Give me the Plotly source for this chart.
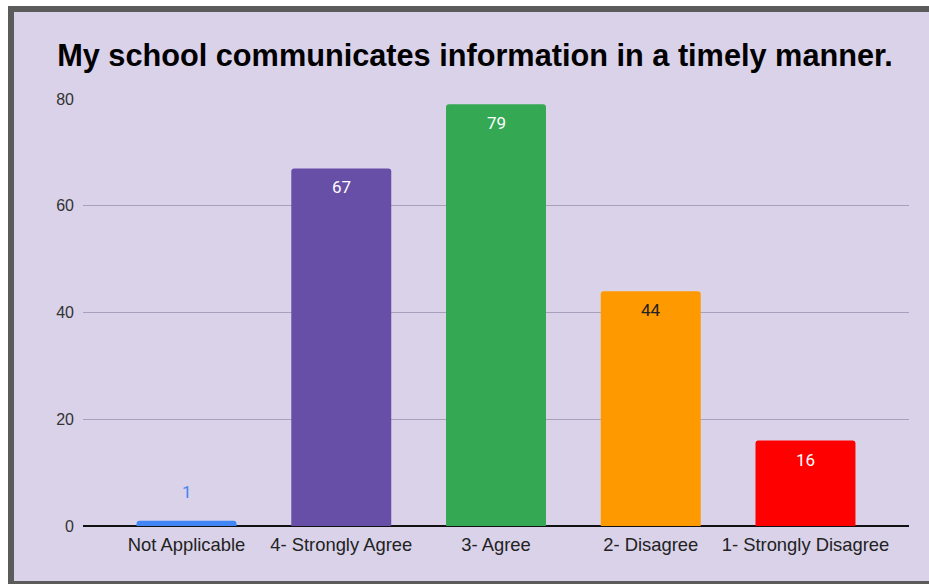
import plotly.graph_objects as go

categories = ["Not Applicable", "4- Strongly Agree", "3- Agree", "2- Disagree", "1- Strongly Disagree"]
counts = [1, 67, 79, 44, 16]
bar_colors = ["#4285f4", "#674ea7", "#34a853", "#ff9900", "#ff0000"]
label_colors = ["#4285f4", "#ffffff", "#ffffff", "#222222", "#ffffff"]
y_ticks = [0, 20, 40, 60, 80]

W, H = 929, 584
ML, MR, MT, MB = 83, 20, 99, 58
PW, PH = W - ML - MR, H - MT - MB


def px_x(p):
    return (p - ML) / PW


def px_y(p):
    return (H - MB - p) / PH


fig = go.Figure()
fig.add_trace(go.Bar(
    x=categories,
    y=counts,
    marker=dict(color=bar_colors, line=dict(width=0), cornerradius=3),
    width=0.646,
    hoverinfo="x+y",
))

# value labels: inside the top of tall bars, above the tiny one
for cat, val, col in zip(categories, counts, label_colors):
    inside = val > 5
    fig.add_annotation(
        x=cat, y=val, xref="x", yref="y",
        text=str(val), showarrow=False,
        yanchor="top" if inside else "bottom",
        yshift=-7 if inside else 17,
        font=dict(family="Roboto, Arial, sans-serif", size=17, color=col),
    )

# card frame behind the chart
fig.add_shape(
    type="rect", xref="paper", yref="paper", layer="below",
    x0=px_x(11), x1=px_x(940), y0=px_y(9), y1=px_y(584),
    fillcolor="#d9d2e9", line=dict(color="#5b5b5b", width=6),
)

fig.update_layout(
    width=W, height=H,
    margin=dict(l=ML, r=MR, t=MT, b=MB, pad=0),
    paper_bgcolor="#ffffff",
    plot_bgcolor="rgba(0,0,0,0)",
    showlegend=False,
    title=dict(
        text="<b>My school communicates information in a timely manner.</b>",
        x=475 / W, xanchor="center", y=1 - 55 / H, yanchor="middle",
        font=dict(family="Liberation Sans, Arial, sans-serif", size=30.7, color="#000000"),
    ),
    xaxis=dict(
        range=[-0.669, 4.669],
        showgrid=False, zeroline=False,
        showline=False, ticks="", ticklabelstandoff=6,
        tickfont=dict(family="Liberation Sans, Arial, sans-serif", size=18.4, color="#222222"),
    ),
    yaxis=dict(
        range=[0, 80], tickvals=y_ticks,
        showgrid=True, gridcolor="#a79fbb", gridwidth=1,
        zeroline=True, zerolinecolor="#111111", zerolinewidth=1.5,
        showline=False, ticks="", ticklabelstandoff=8,
        tickfont=dict(family="Liberation Sans, Arial, sans-serif", size=16, color="#333333"),
    ),
)

fig.write_html("out.html")
